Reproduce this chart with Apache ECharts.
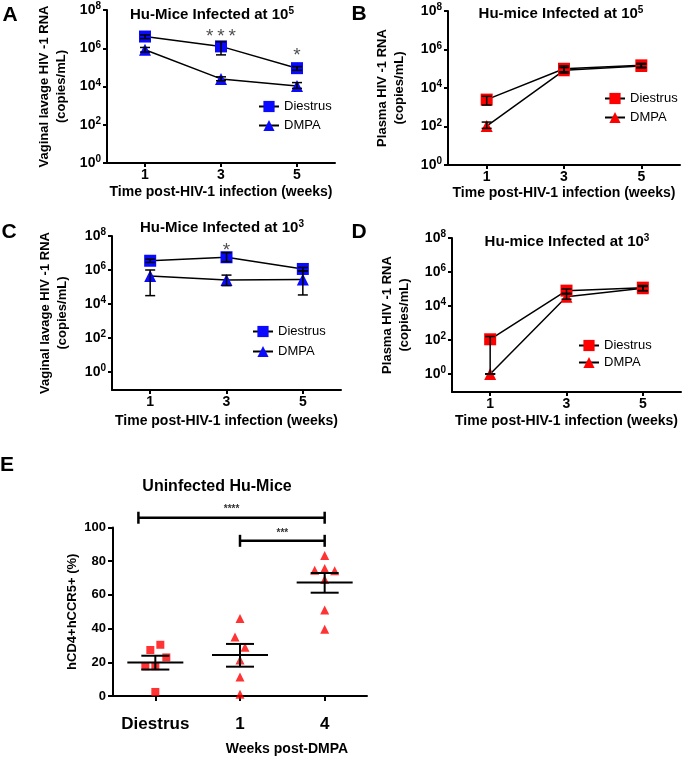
<!DOCTYPE html>
<html><head><meta charset="utf-8">
<script src="https://cdn.jsdelivr.net/npm/echarts@6/dist/echarts.min.js"></script>
<style>html,body{margin:0;padding:0;background:#fff}#c{width:685px;height:758px}</style>
</head><body><div id="c"></div>
<script>
// ---------- data ----------
const weeks = [1, 3, 5];
const xTickWeeks = [1, 3, 5];

const aDiestrus = [4.1e6, 1.25e6, 9.1e4];
const aDiestrusLow = [3.2e6, 4.5e5, 7.0e4];
const aDiestrusHigh = [5.0e6, 2.2e6, 1.1e5];
const aDmpa = [8.3e5, 2.5e4, 1.07e4];
const aDmpaLow = [6.3e5, 2.0e4, 8.0e3];
const aDmpaHigh = [1.1e6, 3.2e4, 1.6e4];

const bDiestrus = [2.5e3, 1.0e5, 1.5e5];
const bDiestrusLow = [1.3e3, 7.0e4, 1.2e5];
const bDiestrusHigh = [3.7e3, 1.4e5, 1.9e5];
const bDmpa = [1.05e2, 8.3e4, 1.4e5];
const bDmpaLow = [8.0e1, 6.0e4, 1.1e5];
const bDmpaHigh = [1.7e2, 1.15e5, 1.7e5];

const cDiestrus = [3.5e6, 5.6e6, 1.15e6];
const cDiestrusLow = [2.8e6, 3.1e6, 9.0e5];
const cDiestrusHigh = [4.3e6, 1.05e7, 1.4e6];
const cDmpa = [4.5e5, 2.6e5, 2.8e5];
const cDmpaLow = [3.1e4, 1.2e5, 3.4e4];
const cDmpaHigh = [1.0e6, 5.0e5, 9.0e5];

const dDiestrus = [1.1e2, 8.0e4, 1.2e5];
const dDiestrusLow = [1, 5.6e4, 8.0e4];
const dDiestrusHigh = [1.6e2, 1.0e5, 1.6e5];
const dDmpa = [1, 3.5e4, 1.12e5];
const dDmpaLow = [1, 2.5e4, 8.0e4];
const dDmpaHigh = [1, 5.0e4, 1.4e5];

const aStars = [{week: 3, text: '*\u2009*\u2009*'}, {week: 5, text: '*'}];
const cStars = [{week: 3, text: '*'}];

const eCategories = ['Diestrus', '1', '4'];
const eDiestrus = [30.4, 27.3, 22.9, 17.7, 17.7, 2.4];
const eWeek1 = [46.0, 35.0, 28.9, 21.3, 11.3, 1.0];
const eWeek4 = [83.4, 75.6, 74.6, 74.4, 69.1, 51.1, 39.6];
const eMean = [19.9, 24.4, 67.3];
const eSemLow = [15.7, 17.4, 61.3];
const eSemHigh = [23.9, 30.9, 73.0];
const eSig = [{from: 0, to: 2, level: 105.8, text: '****'}, {from: 1, to: 2, level: 92.1, text: '***'}];

// ---------- styling ----------
const FONT = '"Liberation Sans", Arial, Helvetica, sans-serif';
const BLUE = '#0a0aff', RED = '#ff0000';

const chart = echarts.init(document.getElementById('c'), null, {renderer: 'canvas'});

function zip(x, y) { return x.map((v, i) => [v, y[i]]); }
function zip3(x, a, b) { return x.map((v, i) => [v, a[i], b[i]]); }

function errorBarRender(params, api) {
  const x = api.value(0);
  const lo = api.coord([x, api.value(1)]);
  const hi = api.coord([x, api.value(2)]);
  const w = 5;
  const style = {stroke: '#000', lineWidth: 1.5};
  return {type: 'group', children: [
    {type: 'line', shape: {x1: lo[0], y1: lo[1], x2: hi[0], y2: hi[1]}, style},
    {type: 'line', shape: {x1: lo[0] - w, y1: lo[1], x2: lo[0] + w, y2: lo[1]}, style},
    {type: 'line', shape: {x1: hi[0] - w, y1: hi[1], x2: hi[0] + w, y2: hi[1]}, style}
  ]};
}

const panels = [
  {key: 'A', grid: {left: 107, top: 10, width: 228, height: 153}, ymin: 1, color: BLUE,
   yName: 'Vaginal lavage HIV -1 RNA\n(copies/mL)', yGap: 37, xGap: 22,
   d: [aDiestrus, aDiestrusLow, aDiestrusHigh], m: [aDmpa, aDmpaLow, aDmpaHigh],
   legend: {left: 258, top: 100, itemGap: 6}, stars: aStars, starVals: [4.0e6, 4.0e5]},
  {key: 'B', grid: {left: 448, top: 11, width: 232, height: 154}, ymin: 1, color: RED,
   yName: 'Plasma HIV -1 RNA\n(copies/mL)', yGap: 40, xGap: 21,
   d: [bDiestrus, bDiestrusLow, bDiestrusHigh], m: [bDmpa, bDmpaLow, bDmpaHigh],
   legend: {left: 604, top: 92, itemGap: 6}, stars: [], starVals: []},
  {key: 'C', grid: {left: 112, top: 236, width: 229, height: 154}, ymin: 0.087, color: BLUE,
   yName: 'Vaginal lavage HIV -1 RNA\n(copies/mL)', yGap: 41, xGap: 24,
   d: [cDiestrus, cDiestrusLow, cDiestrusHigh], m: [cDmpa, cDmpaLow, cDmpaHigh],
   legend: {left: 252, top: 325, itemGap: 7}, stars: cStars, starVals: [1.3e7]},
  {key: 'D', grid: {left: 452, top: 238, width: 229, height: 154}, ymin: 0.087, color: RED,
   yName: 'Plasma HIV -1 RNA\n(copies/mL)', yGap: 39, xGap: 22,
   d: [dDiestrus, dDiestrusLow, dDiestrusHigh], m: [dDmpa, dDmpaLow, dDmpaHigh],
   legend: {left: 578, top: 339, itemGap: 4}, stars: [], starVals: []}
];

const grids = [], xAxes = [], yAxes = [], series = [], legends = [];

const labelRich = {
  b: {fontSize: 14, fontWeight: 'bold', color: '#000', fontFamily: FONT, lineHeight: 17},
  s: {fontSize: 10, fontWeight: 'bold', color: '#000', fontFamily: FONT, verticalAlign: 'top', lineHeight: 10}
};

panels.forEach((p, i) => {
  grids.push(Object.assign({containLabel: false}, p.grid));
  xAxes.push({
    type: 'value', gridIndex: i, min: 0, max: 6,
    axisLine: {show: true, onZero: false, lineStyle: {color: '#000', width: 2}},
    axisTick: {show: true, length: 4, customValues: xTickWeeks, lineStyle: {color: '#000', width: 2}},
    axisLabel: {customValues: xTickWeeks, margin: 5, fontSize: 14, fontWeight: 'bold', color: '#000', fontFamily: FONT},
    splitLine: {show: false},
    name: 'Time post-HIV-1 infection (weeks)', nameLocation: 'middle', nameGap: p.xGap,
    nameTextStyle: {fontSize: 14, fontWeight: 'bold', color: '#000', fontFamily: FONT}
  });
  yAxes.push({
    type: 'log', logBase: 100, gridIndex: i, min: p.ymin, max: 1e8,
    axisLine: {show: true, onZero: false, lineStyle: {color: '#000', width: 2}},
    axisTick: {show: true, length: 4, lineStyle: {color: '#000', width: 2}},
    minorTick: {show: false}, splitLine: {show: false},
    axisLabel: {showMinLabel: p.ymin === 1, margin: 6,
      formatter: v => '{b|10}{s|' + Math.round(Math.log10(v)) + '}', rich: labelRich},
    name: p.yName, nameLocation: 'middle', nameRotate: 90, nameGap: p.yGap,
    nameTextStyle: {fontSize: 13, fontWeight: 'bold', color: '#000', fontFamily: FONT, lineHeight: 17}
  });
  const nameD = p.key + '|Diestrus', nameM = p.key + '|DMPA';
  series.push({
    name: nameD, type: 'line', xAxisIndex: i, yAxisIndex: i, data: zip(weeks, p.d[0]),
    symbol: 'rect', symbolSize: 12, itemStyle: {color: p.color},
    lineStyle: {color: '#000', width: 1.5}, z: 3
  });
  series.push({
    name: nameM, type: 'line', xAxisIndex: i, yAxisIndex: i, data: zip(weeks, p.m[0]),
    symbol: 'triangle', symbolSize: 12, itemStyle: {color: p.color},
    lineStyle: {color: '#000', width: 1.5}, z: 3
  });
  series.push({
    type: 'custom', xAxisIndex: i, yAxisIndex: i, renderItem: errorBarRender, clip: false, z: 4,
    encode: {x: 0, y: [1, 2]},
    data: zip3(weeks, p.d[1], p.d[2]).concat(zip3(weeks, p.m[1], p.m[2]))
  });
  if (p.stars.length) {
    series.push({
      type: 'scatter', xAxisIndex: i, yAxisIndex: i, symbolSize: 0, z: 5, silent: true,
      data: p.stars.map((s, k) => ({value: [s.week, p.starVals[k]], label: {formatter: s.text}})),
      label: {show: true, position: 'inside', fontSize: 19, color: '#222', fontFamily: FONT}
    });
  }
  legends.push({
    data: [nameD, nameM], orient: 'vertical', left: p.legend.left, top: p.legend.top,
    itemWidth: 20, itemHeight: 14, itemGap: p.legend.itemGap, padding: 0,
    formatter: n => n.split('|')[1],
    textStyle: {fontSize: 13, color: '#000', fontFamily: FONT}, selectedMode: false
  });
});

// ---------- panel E ----------
const eIdx = 4;
grids.push({left: 113, top: 527.5, width: 254, height: 168.5});
xAxes.push({
  type: 'category', gridIndex: eIdx, data: eCategories, boundaryGap: true,
  axisLine: {show: true, onZero: false, lineStyle: {color: '#000', width: 2}},
  axisTick: {show: true, alignWithLabel: true, interval: 0, length: 5, lineStyle: {color: '#000', width: 2}},
  axisLabel: {interval: 0, hideOverlap: false, margin: 20, fontSize: 17, fontWeight: 'bold', color: '#000', fontFamily: FONT}
});
yAxes.push({
  type: 'value', gridIndex: eIdx, min: 0, max: 100, interval: 20,
  axisLine: {show: true, onZero: false, lineStyle: {color: '#000', width: 2}},
  axisTick: {show: true, length: 5, lineStyle: {color: '#000', width: 2}},
  splitLine: {show: false},
  axisLabel: {margin: 7, fontSize: 13, fontWeight: 'bold', color: '#000', fontFamily: FONT},
  name: 'hCD4+hCCR5+ (%)', nameLocation: 'middle', nameRotate: 90, nameGap: 34,
  nameTextStyle: {fontSize: 13, fontWeight: 'bold', color: '#000', fontFamily: FONT}
});

const jitterDiestrus = [5, -5, 11, -10, 0, 0];
const jitterWeek1 = [0, -5, 5, 0, 0, 0];
const jitterWeek4 = [0, 0, -10, 10, 0, 0, 0];

function scatterData(cat, vals, jit) {
  return vals.map((v, k) => ({value: [cat, v], symbolOffset: [jit[k], 0]}));
}
series.push({
  type: 'scatter', xAxisIndex: eIdx, yAxisIndex: eIdx, symbol: 'rect', symbolSize: 8,
  itemStyle: {color: RED}, data: scatterData(0, eDiestrus, jitterDiestrus), z: 3
});
series.push({
  type: 'scatter', xAxisIndex: eIdx, yAxisIndex: eIdx, symbol: 'triangle', symbolSize: 9,
  itemStyle: {color: RED},
  data: scatterData(1, eWeek1, jitterWeek1).concat(scatterData(2, eWeek4, jitterWeek4)), z: 3
});
// mean +/- SEM
series.push({
  type: 'custom', xAxisIndex: eIdx, yAxisIndex: eIdx, clip: false, z: 4,
  encode: {x: 0, y: [1, 2, 3]},
  data: eCategories.map((c, k) => [k, eMean[k], eSemLow[k], eSemHigh[k]]),
  renderItem: (params, api) => {
    const k = api.value(0);
    const m = api.coord([k, api.value(1)]);
    const lo = api.coord([k, api.value(2)]);
    const hi = api.coord([k, api.value(3)]);
    const style = {stroke: '#000', lineWidth: 2};
    return {type: 'group', children: [
      {type: 'line', shape: {x1: m[0] - 28, y1: m[1], x2: m[0] + 28, y2: m[1]}, style},
      {type: 'line', shape: {x1: lo[0], y1: lo[1], x2: hi[0], y2: hi[1]}, style},
      {type: 'line', shape: {x1: lo[0] - 14, y1: lo[1], x2: lo[0] + 14, y2: lo[1]}, style},
      {type: 'line', shape: {x1: hi[0] - 14, y1: hi[1], x2: hi[0] + 14, y2: hi[1]}, style}
    ]};
  }
});
// significance brackets
series.push({
  type: 'custom', xAxisIndex: eIdx, yAxisIndex: eIdx, clip: false, z: 4,
  encode: {x: [0, 1], y: 2},
  data: eSig.map(s => [s.from, s.to, s.level]),
  renderItem: (params, api) => {
    const band = api.size([1, 0])[0];
    const a = api.coord([api.value(0), api.value(2)]);
    const b = api.coord([api.value(1), api.value(2)]);
    const x1 = a[0] - (api.value(0) === 0 ? 0.2 * band : 0);
    const x2 = b[0];
    const y = a[1];
    const style = {stroke: '#000', lineWidth: 2.5};
    return {type: 'group', children: [
      {type: 'line', shape: {x1, y1: y, x2, y2: y}, style},
      {type: 'line', shape: {x1, y1: y - 6, x2: x1, y2: y + 6}, style},
      {type: 'line', shape: {x1: x2, y1: y - 6, x2: x2, y2: y + 6}, style},
      {type: 'text', x: (x1 + x2) / 2, y: y - 8, style: {text: eSig[params.dataIndex].text, fontSize: 10, fontWeight: 'bold', fill: '#333', fontFamily: FONT, align: 'center', verticalAlign: 'middle'}}
    ]};
  }
});

// ---------- free text ----------
function gText(x, y, text, size, rich) {
  const st = {text, fontSize: size, fontWeight: 'bold', fontFamily: FONT, fill: '#000', align: 'center', verticalAlign: 'middle'};
  if (rich) st.rich = rich;
  return {type: 'text', x, y, style: st, silent: true};
}
const titleRich = {
  t: {fontSize: 15, fontWeight: 'bold', fontFamily: FONT, fill: '#000', lineHeight: 18},
  s: {fontSize: 10, fontWeight: 'bold', fontFamily: FONT, fill: '#000', verticalAlign: 'top', lineHeight: 10}
};
const graphics = [
  gText(10, 15, 'A', 21), gText(359, 14, 'B', 21), gText(9, 232, 'C', 21), gText(359, 232, 'D', 21), gText(7, 465, 'E', 21),
  gText(212, 15, '{t|Hu-Mice Infected at 10}{s|5}', 15, titleRich),
  gText(561, 14, '{t|Hu-mice Infected at 10}{s|5}', 15, titleRich),
  gText(222, 228, '{t|Hu-Mice Infected at 10}{s|3}', 15, titleRich),
  gText(567, 242, '{t|Hu-mice Infected at 10}{s|3}', 15, titleRich),
  gText(217, 487, 'Uninfected Hu-Mice', 16),
  gText(287, 749, 'Weeks post-DMPA', 14)
];

chart.setOption({
  animation: false,
  backgroundColor: '#fff',
  grid: grids, xAxis: xAxes, yAxis: yAxes, series, legend: legends,
  graphic: graphics
});
</script></body></html>
